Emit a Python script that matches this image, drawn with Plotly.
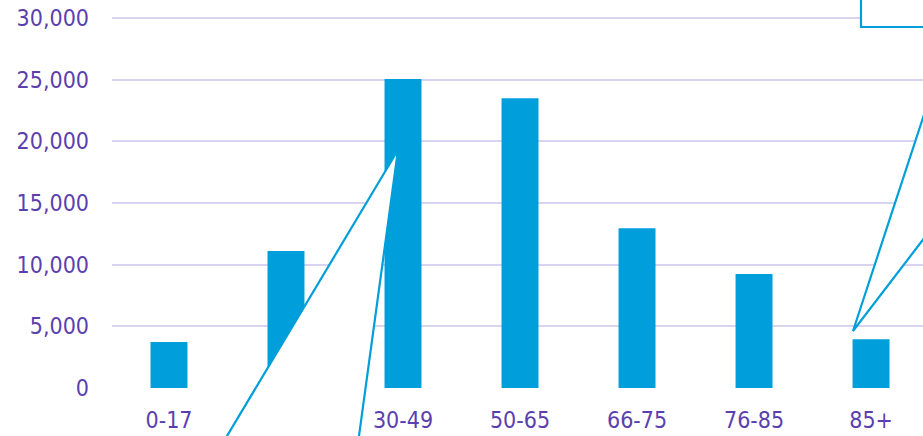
import plotly.graph_objects as go

# ---- data ----
categories = ["0-17", "18-29", "30-49", "50-65", "66-75", "76-85", "85+"]
counts = [3730, 11100, 25050, 23500, 12950, 9240, 3950]
y_ticks = [0, 5000, 10000, 15000, 20000, 25000, 30000]
y_tick_labels = ["0", "5,000", "10,000", "15,000", "20,000", "25,000", "30,000"]

# ---- styles ----
W, H = 923, 436
PLOT_L, PLOT_R, PLOT_T, PLOT_B = 112, 923, 14, 388  # plot area in page pixels
ML, MR, MT, MB = PLOT_L, W - PLOT_R, PLOT_T, H - PLOT_B
Y_TOP_PX = 18            # pixel row of the 30,000 gridline
BAR = "#009FDB"
LINE = "#009FDA"
TEXT = "#5B3FAF"
GRID = "#DAD3EF"
FONT = "DejaVu Sans Condensed, DejaVu Sans, sans-serif"

PW = PLOT_R - PLOT_L
PH = PLOT_B - PLOT_T
y_max = y_ticks[-1] * PH / (PLOT_B - Y_TOP_PX)


def px(x):
    return (x - PLOT_L) / PW


def py(y):
    return (PLOT_B - y) / PH


def path(points, close=True):
    s = "M " + " L ".join(f"{px(x):.5f},{py(y):.5f}" for x, y in points)
    return s + (" Z" if close else "")


fig = go.Figure(go.Bar(x=categories, y=counts, marker=dict(color=BAR, line=dict(width=0)),
                       hoverinfo="skip"))

shapes = []
# callout wedges (white fill) pointing at the 30-49 and 85+ bars
wedge1 = [(200.7, 480), (398, 150), (353, 480)]
wedge2 = [(960, 5), (853, 331), (960, 191.4)]
for w in (wedge1, wedge2):
    shapes.append(dict(type="path", xref="paper", yref="paper", path=path(w),
                       fillcolor="white", line=dict(width=0), layer="above"))
for w in (wedge1, wedge2):
    shapes.append(dict(type="path", xref="paper", yref="paper", path=path(w, close=False),
                       line=dict(color=LINE, width=2.2), layer="above"))
# box at the top right
shapes.append(dict(type="rect", xref="paper", yref="paper",
                   x0=px(861), x1=px(1000), y0=py(27), y1=py(-30),
                   fillcolor="white", line=dict(color=LINE, width=2.2), layer="above"))

fig.update_layout(
    width=W, height=H,
    margin=dict(l=ML, r=MR, t=MT, b=MB, pad=0),
    paper_bgcolor="white", plot_bgcolor="white",
    showlegend=False,
    bargap=0.684,
    font=dict(family=FONT, size=23, color=TEXT),
    shapes=shapes,
    xaxis=dict(type="category", range=[-0.487, 6.444], showgrid=False, zeroline=False,
               showline=False, ticks="", ticklabelstandoff=16,
               tickfont=dict(family=FONT, size=23, color=TEXT)),
    yaxis=dict(range=[0, y_max], tickvals=y_ticks, ticktext=y_tick_labels,
               showgrid=True, gridcolor=GRID, gridwidth=2,
               zeroline=False, showline=False, ticks="",
               ticklabelstandoff=22,
               tickfont=dict(family=FONT, size=23, color=TEXT)),
)

fig.write_html("out.html",
               config={"displayModeBar": False},
               post_script="document.body.style.margin='0';document.body.style.overflow='hidden';")
